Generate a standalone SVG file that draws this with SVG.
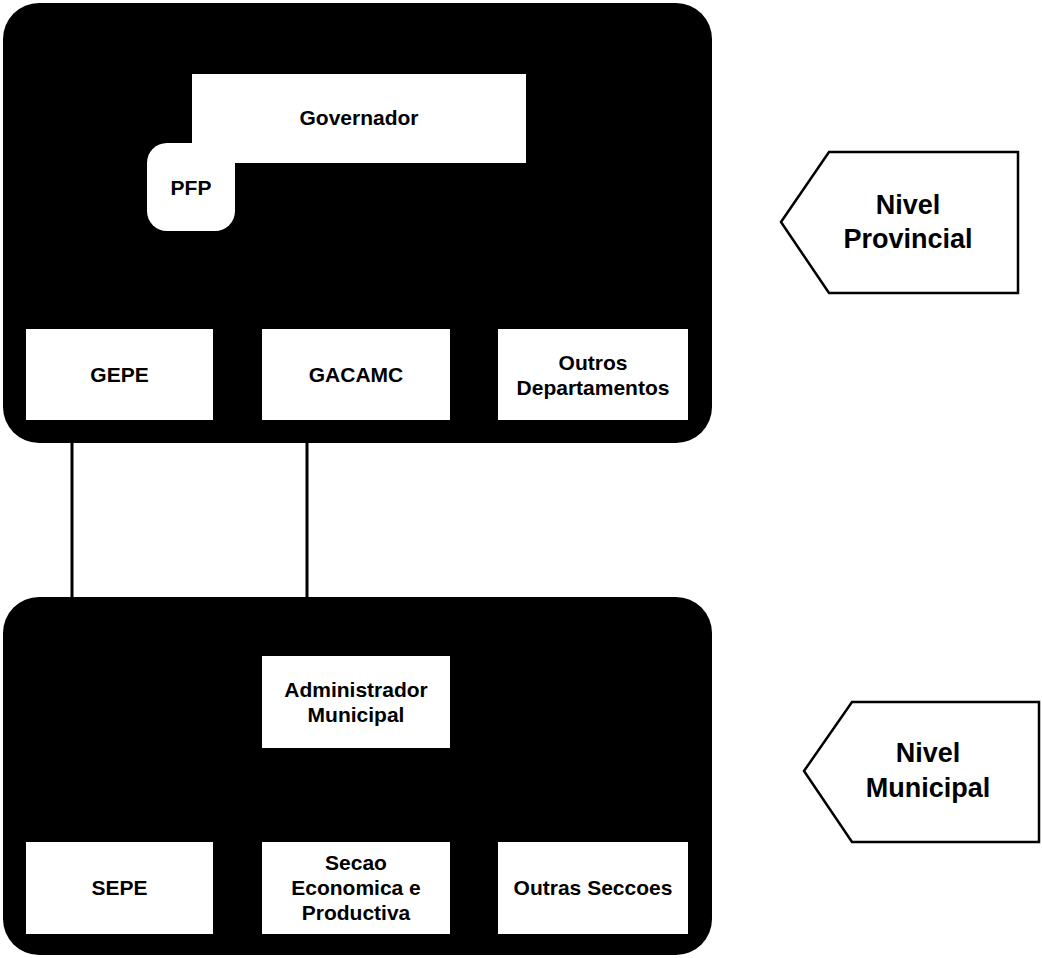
<svg xmlns="http://www.w3.org/2000/svg" width="1042" height="958" viewBox="0 0 1042 958">
<style>
.lvl{fill:#000000}
.box{fill:#ffffff}
.t{font-family:"Liberation Sans",Arial,sans-serif;font-weight:bold;font-size:21px;fill:#000000;text-anchor:middle}
.tl{font-family:"Liberation Sans",Arial,sans-serif;font-weight:bold;font-size:27px;fill:#000000;text-anchor:middle}
.tag{fill:#ffffff;stroke:#000000;stroke-width:2.5;stroke-linejoin:miter}
.conn{stroke:#000000;stroke-width:3;fill:none}
</style>
<rect width="1042" height="958" fill="#ffffff"/>
<g id="provincial">
<rect class="lvl" x="3" y="3" width="709" height="440" rx="36" ry="36"/>
</g>
<g id="municipal">
<rect class="lvl" x="3" y="597" width="709" height="358" rx="36" ry="36"/>
</g>
<g id="connectors">
<line class="conn" x1="72" y1="418" x2="72" y2="598"/>
<line class="conn" x1="307" y1="418" x2="307" y2="598"/>
</g>
<g id="pfp">
<rect class="box" x="147" y="143" width="88" height="88" rx="20" ry="20"/>
<text class="t" x="191" y="195">PFP</text>
</g>
<g id="governador">
<rect class="box" x="192" y="74" width="334" height="89"/>
<text class="t" x="359" y="125">Governador</text>
</g>
<g id="gepe">
<rect class="box" x="26" y="329" width="187" height="91"/>
<text class="t" x="119.5" y="382">GEPE</text>
</g>
<g id="gacamc">
<rect class="box" x="262" y="329" width="188" height="91"/>
<text class="t" x="356" y="382">GACAMC</text>
</g>
<g id="outros-departamentos">
<rect class="box" x="498" y="329" width="190" height="91"/>
<text class="t" x="593" y="370">Outros</text>
<text class="t" x="593" y="395">Departamentos</text>
</g>
<g id="administrador">
<rect class="box" x="262" y="656" width="188" height="92"/>
<text class="t" x="356" y="697">Administrador</text>
<text class="t" x="356" y="722">Municipal</text>
</g>
<g id="sepe">
<rect class="box" x="26" y="842" width="187" height="92"/>
<text class="t" x="119.5" y="895">SEPE</text>
</g>
<g id="secao">
<rect class="box" x="262" y="842" width="188" height="92"/>
<text class="t" x="356" y="870">Secao</text>
<text class="t" x="356" y="895">Economica e</text>
<text class="t" x="356" y="920">Productiva</text>
</g>
<g id="outras-seccoes">
<rect class="box" x="498" y="842" width="190" height="92"/>
<text class="t" x="593" y="895">Outras Seccoes</text>
</g>
<g id="nivel-provincial">
<polygon class="tag" points="781,222 829,152 1018,152 1018,293 829,293"/>
<text class="tl" x="908" y="214">Nivel</text>
<text class="tl" x="908" y="248">Provincial</text>
</g>
<g id="nivel-municipal">
<polygon class="tag" points="804,771 852,702 1039,702 1039,842 852,842"/>
<text class="tl" x="928" y="762">Nivel</text>
<text class="tl" x="928" y="797">Municipal</text>
</g>
</svg>
